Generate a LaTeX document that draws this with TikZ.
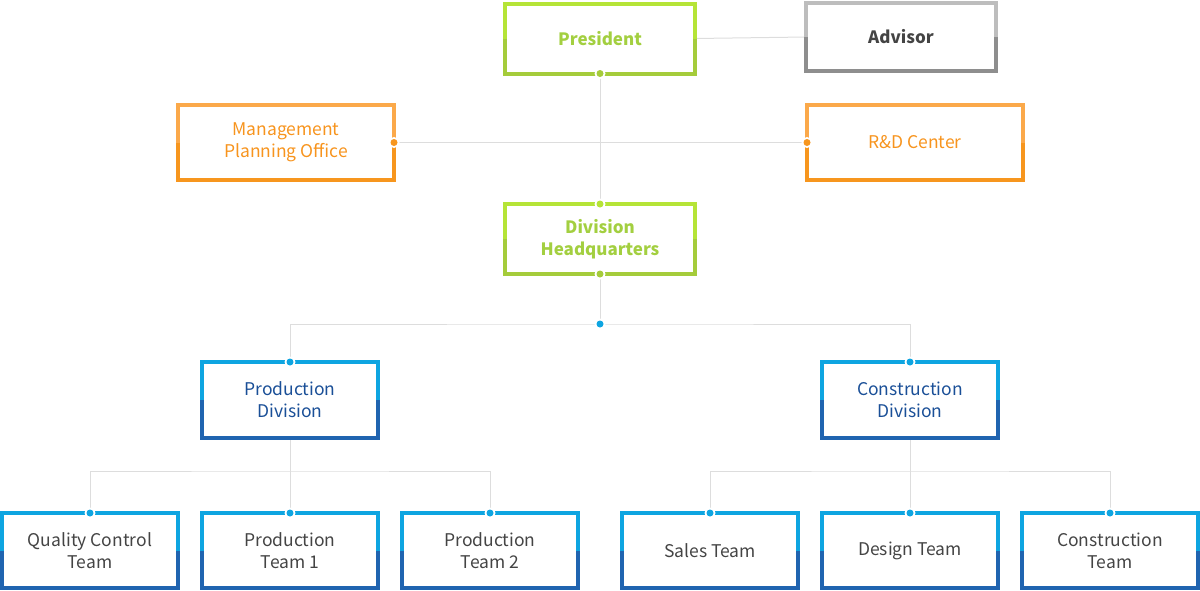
\documentclass[tikz,border=0pt]{standalone}
\usepackage{fontspec}
\setmainfont{Noto Sans CJK KR}
\usetikzlibrary{positioning,calc}

\definecolor{grnT}{HTML}{B5E437}
\definecolor{grnB}{HTML}{A5CC3B}
\definecolor{grnText}{HTML}{A3CF40}
\definecolor{grayT}{HTML}{BDBDBD}
\definecolor{grayB}{HTML}{8E8E8E}
\definecolor{orgT}{HTML}{FBA94A}
\definecolor{orgB}{HTML}{F7961E}
\definecolor{orgText}{HTML}{F7941E}
\definecolor{bluT}{HTML}{0EA5E1}
\definecolor{bluB}{HTML}{2064B0}
\definecolor{divText}{HTML}{1A4F97}
\definecolor{teamText}{HTML}{444444}
\definecolor{linkGray}{HTML}{DDDDDD}

\tikzset{
  unit/.style={inner sep=0pt, outer sep=0pt, align=center,
    font=\fontsize{17.5}{22}\selectfont},
  topbox/.style={unit, minimum width=190pt, minimum height=70pt,
    font=\fontsize{17}{22}\selectfont\bfseries},
  sidebox/.style={unit, minimum width=216pt, minimum height=75pt, text=orgText},
  divbox/.style={unit, minimum width=176pt, minimum height=76pt, text=divText},
  teambox/.style={unit, minimum width=176pt, minimum height=75pt, text=teamText},
  frame/.style={line width=4pt, line join=miter},
  link/.style={draw=linkGray, line width=1pt}
}
\newcommand{\joint}[2]{%
  \fill[white] (#1) circle[radius=5.5pt];
  \fill[#2] (#1) circle[radius=3.5pt];}

\begin{document}
\begin{tikzpicture}[x=1pt, y=-1pt]
    \useasboundingbox (0,0) rectangle (1200,590);

    % top level
    \node[topbox, text=grnText] (pres) at (600,38.5) {President};
    \node[topbox, text=teamText, minimum height=68pt] (adv) at (901,37) {Advisor};

    % staff offices
    \node[sidebox] (mpo) at (286,142.5) {Management\\Planning Office};
    \node[sidebox] (rnd) at (915,142.5) {R\&D Center};

    % headquarters
    \node[topbox, text=grnText] (hq) at (600,239) {Division\\Headquarters};
    \coordinate (hqj) at (600,324);

    % divisions
    \node[divbox] (pdiv) at (290,400) {Production\\Division};
    \node[divbox] (cdiv) at (910,400) {Construction\\Division};

    % teams
    \node[teambox] (qc) at (90,550.5) {Quality Control\\Team};
    \node[teambox] (pt1) at (290,550.5) {Production\\Team 1};
    \node[teambox] (pt2) at (490,550.5) {Production\\Team 2};
    \node[teambox] (sales) at (710,550.5) {Sales Team};
    \node[teambox] (design) at (910,550.5) {Design Team};
    \node[teambox] (ct) at (1110,550.5) {Construction\\Team};

    % connectors
    \draw[link] (pres.east) -- (adv.west);
    \draw[link] (pres.south) -- (hq.north);
    \draw[link] (mpo.east) -- (rnd.west);
    \draw[link] (hq.south) -- (hqj);
    \draw[link] (pdiv.north) |- (hqj) -| (cdiv.north);
    \draw[link] (pdiv.south) -- ++(0,33) coordinate (pj);
    \draw[link] (qc.north) |- (pj) -| (pt2.north);
    \draw[link] (pj) -- (pt1.north);
    \draw[link] (cdiv.south) -- ++(0,33) coordinate (cj);
    \draw[link] (sales.north) |- (cj) -| (ct.north);
    \draw[link] (cj) -- (design.north);

    % two-tone frames
    \foreach \n/\t/\b in {pres/grnT/grnB, adv/grayT/grayB, hq/grnT/grnB,
        mpo/orgT/orgB, rnd/orgT/orgB, pdiv/bluT/bluB, cdiv/bluT/bluB,
        qc/bluT/bluB, pt1/bluT/bluB, pt2/bluT/bluB,
        sales/bluT/bluB, design/bluT/bluB, ct/bluT/bluB} {
      \draw[frame, \t] (\n.west) |- (\n.north) -| (\n.east);
      \draw[frame, \b] (\n.west) |- (\n.south) -| (\n.east);
    }

    % joints
    \joint{pres.south}{grnB}
    \joint{hq.north}{grnT}
    \joint{hq.south}{grnB}
    \joint{mpo.east}{orgB}
    \joint{rnd.west}{orgB}
    \joint{hqj}{bluT}
    \foreach \n in {pdiv, cdiv, qc, pt1, pt2, sales, design, ct} {
      \joint{\n.north}{bluT}
    }
\end{tikzpicture}
\end{document}
